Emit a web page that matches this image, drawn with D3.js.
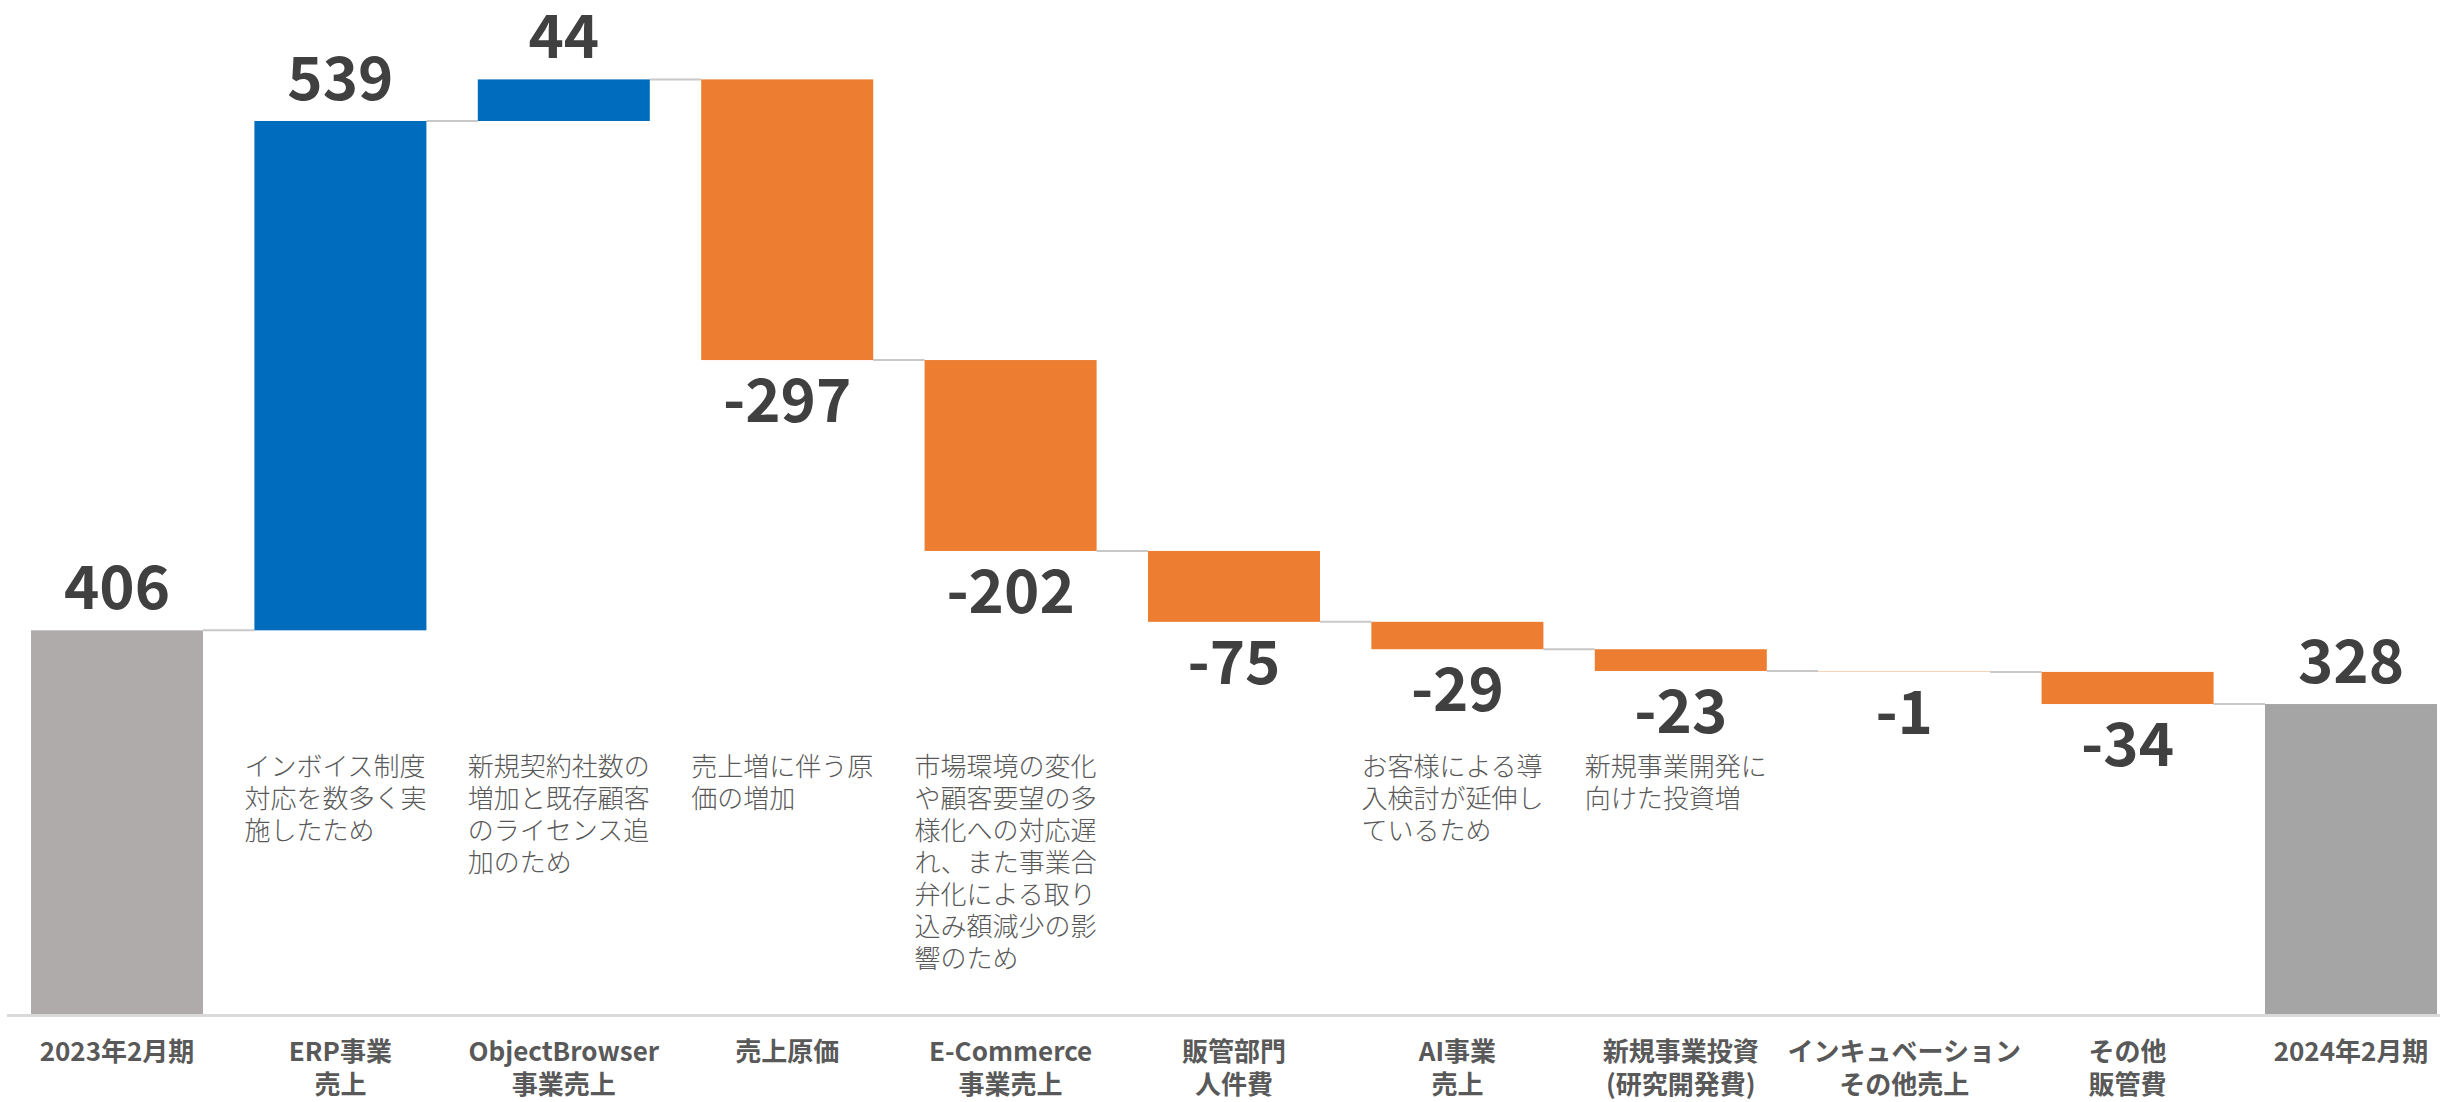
<!DOCTYPE html>
<html>
<head>
<meta charset="utf-8">
<script src="https://cdn.jsdelivr.net/npm/d3@7"></script>
<style>
  html, body { margin: 0; padding: 0; background: #fff; }
  svg { display: block; font-family: "Noto Sans CJK JP", "Noto Sans", sans-serif; }
</style>
</head>
<body>
<svg id="chart" width="2440" height="1102"></svg>
<script>
const categories = [
  ["2023年2月期"],
  ["ERP事業", "売上"],
  ["ObjectBrowser", "事業売上"],
  ["売上原価"],
  ["E-Commerce", "事業売上"],
  ["販管部門", "人件費"],
  ["AI事業", "売上"],
  ["新規事業投資", "(研究開発費)"],
  ["インキュベーション", "その他売上"],
  ["その他", "販管費"],
  ["2024年2月期"]
];
const values = [406, 539, 44, -297, -202, -75, -29, -23, -1, -34, 328];
const isTotal = [true, false, false, false, false, false, false, false, false, false, true];
const notes = [
  [],
  ["インボイス制度", "対応を数多く実", "施したため"],
  ["新規契約社数の", "増加と既存顧客", "のライセンス追", "加のため"],
  ["売上増に伴う原", "価の増加"],
  ["市場環境の変化", "や顧客要望の多", "様化への対応遅", "れ、また事業合", "弁化による取り", "込み額減少の影", "響のため"],
  [],
  ["お客様による導", "入検討が延伸し", "ているため"],
  ["新規事業開発に", "向けた投資増"],
  [],
  [],
  []
];

const colorTotalStart = "#AFABAB";
const colorTotalEnd = "#A5A5A5";
const colorUp = "#006CBD";
const colorDown = "#ED7D31";

// running sum -> start/end of each bar
let run = 0;
const bars = values.map((v, i) => {
  let lo, hi;
  if (isTotal[i]) { lo = 0; hi = v; run = v; }
  else { const s = run; run += v; lo = Math.min(s, run); hi = Math.max(s, run); }
  return { i, v, lo, hi, level: isTotal[i] ? v : run };
});

const svg = d3.select("#chart");
const baseY = 1014;

const x = d3.scaleBand()
  .domain(d3.range(values.length))
  .range([31, 2437])
  .paddingInner(0.23)
  .paddingOuter(0);

const y = d3.scaleLinear().domain([0, 1000]).range([baseY, baseY - 945]);

// baseline
svg.append("line")
  .attr("x1", 7).attr("x2", 2440)
  .attr("y1", baseY + 1.5).attr("y2", baseY + 1.5)
  .attr("stroke", "#D9D9D9").attr("stroke-width", 3);

// connectors
svg.append("g").selectAll("line")
  .data(bars.slice(0, -1))
  .join("line")
  .attr("x1", d => x(d.i) + x.bandwidth())
  .attr("x2", d => x(d.i + 1))
  .attr("y1", d => y(d.level))
  .attr("y2", d => y(d.level))
  .attr("stroke", "#C8C8C8")
  .attr("stroke-width", 2);

// bars
svg.append("g").selectAll("rect")
  .data(bars)
  .join("rect")
  .attr("x", d => x(d.i))
  .attr("width", x.bandwidth())
  .attr("y", d => y(d.hi))
  .attr("height", d => Math.max(1, y(d.lo) - y(d.hi)))
  .attr("fill", d => d.i === 0 ? colorTotalStart : d.i === values.length - 1 ? colorTotalEnd
    : d.v >= 0 ? colorUp : colorDown)
  .attr("fill-opacity", d => Math.abs(d.v) < 2 && !isTotal[d.i] ? 0.35 : 1);

// value labels
svg.append("g").selectAll("text")
  .data(bars)
  .join("text")
  .attr("x", d => x(d.i) + x.bandwidth() / 2)
  .attr("y", d => (isTotal[d.i] || d.v >= 0) ? y(d.hi) - 21 : y(d.lo) + 62)
  .attr("text-anchor", "middle")
  .attr("font-size", 60)
  .attr("font-weight", 700)
  .attr("fill", "#404040")
  .text(d => d.v);

// notes
const noteG = svg.append("g");
notes.forEach((lines, i) => {
  if (!lines.length) return;
  const t = noteG.append("text")
    .attr("x", x(i) - 10)
    .attr("y", 776)
    .attr("font-size", 26)
    .attr("font-weight", 300)
    .attr("fill", "#595959");
  lines.forEach((s, k) => t.append("tspan").attr("x", x(i) - 10).attr("dy", k ? 32 : 0).text(s));
});

// category labels
const catG = svg.append("g");
categories.forEach((lines, i) => {
  const t = catG.append("text")
    .attr("x", x(i) + x.bandwidth() / 2)
    .attr("y", 1061)
    .attr("text-anchor", "middle")
    .attr("font-size", 26)
    .attr("font-weight", 700)
    .attr("fill", "#595959");
  lines.forEach((s, k) => t.append("tspan").attr("x", x(i) + x.bandwidth() / 2).attr("dy", k ? 33 : 0).text(s));
});
</script>
</body>
</html>
